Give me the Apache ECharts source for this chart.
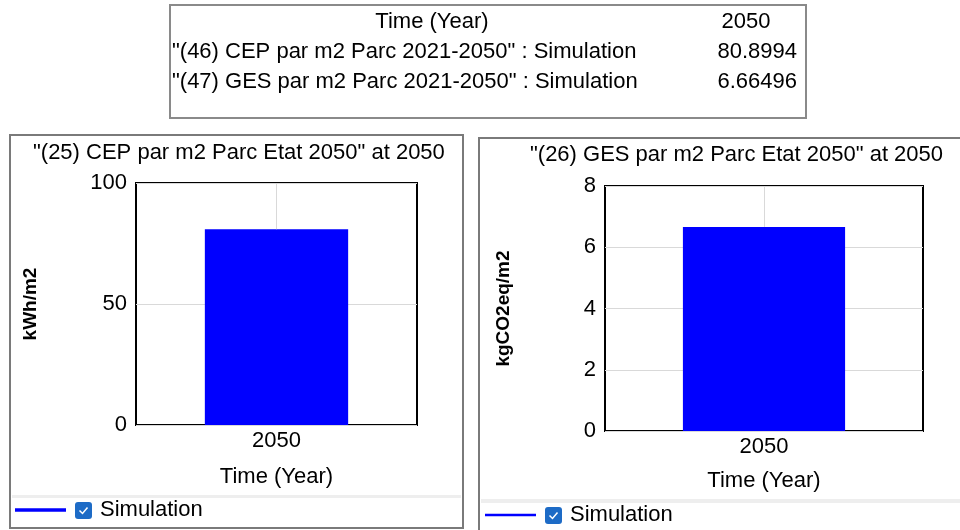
<!DOCTYPE html>
<html>
<head>
<meta charset="utf-8">
<script src="https://cdn.jsdelivr.net/npm/echarts@6/dist/echarts.min.js"></script>
<style>html,body{margin:0;padding:0;background:#fff}#c{width:960px;height:530px}</style>
</head>
<body>
<div id="c"></div>
<script>
// ---- data ----
const categories = ['2050'];
const cepValues = [80.8994];
const gesValues = [6.66496];
const cepTicks = [0, 50, 100];
const gesTicks = [0, 2, 4, 6, 8];
const tableHeader = ['Time (Year)', '2050'];
const tableRows = ['"(46) CEP par m2 Parc 2021-2050" : Simulation', '"(47) GES par m2 Parc 2021-2050" : Simulation'];
const tableValues = ['80.8994', '6.66496'];
const chartTitles = ['"(25) CEP par m2 Parc Etat 2050" at 2050', '"(26) GES par m2 Parc Etat 2050" at 2050'];
const yNames = ['kWh/m2', 'kgCO2eq/m2'];
const xName = 'Time (Year)';
const seriesName = 'Simulation';

const FONT = '"Liberation Sans", Arial, sans-serif';
const FS = 22;
const BLUE = '#0000ff';
const GRIDC = '#d9d9d9';

const chart = echarts.init(document.getElementById('c'));

function yAxis(idx, ticks, gap) {
  return {
    type: 'value', gridIndex: idx,
    min: ticks[0], max: ticks[ticks.length - 1], interval: ticks[1] - ticks[0],
    name: yNames[idx], nameLocation: 'middle', nameGap: gap, nameRotate: 90,
    nameTextStyle: { color: '#000', fontSize: 19, fontWeight: 'bold', fontFamily: FONT },
    axisLine: { show: false }, axisTick: { show: false },
    axisLabel: { color: '#000', fontSize: FS, fontFamily: FONT, margin: 9 },
    splitLine: { show: true, lineStyle: { color: GRIDC, width: 1 } }
  };
}
function xAxis(idx, gap) {
  return {
    type: 'category', gridIndex: idx, data: categories,
    name: xName, nameLocation: 'middle', nameGap: gap,
    nameTextStyle: { color: '#000', fontSize: FS, fontFamily: FONT },
    axisLine: { show: false }, axisTick: { show: false },
    axisLabel: { color: '#000', fontSize: FS, fontFamily: FONT, margin: 5 },
    splitLine: { show: false }
  };
}
function barSeries(idx, vals, yMax) {
  return {
    type: 'bar', name: seriesName, xAxisIndex: idx, yAxisIndex: idx,
    data: vals, barWidth: '51%', z: 2,
    itemStyle: { color: BLUE },
    markLine: {
      silent: true, symbol: ['none', 'none'], label: { show: false },
      lineStyle: { color: GRIDC, width: 1, type: 'solid' },
      data: [[{ coord: [categories[0], vals[0]] }, { coord: [categories[0], yMax] }]]
    }
  };
}

function legendGroup(x, y, lw) {
  return [
    { type: 'line', shape: { x1: x, y1: y, x2: x + 51, y2: y }, style: { stroke: BLUE, lineWidth: lw } },
    { type: 'rect', shape: { x: x + 60, y: y - 8, width: 17, height: 17, r: 3 }, style: { fill: '#1d6bc6' } },
    { type: 'polyline', shape: { points: [[x + 64.5, y + 0.5], [x + 67.5, y + 3.5], [x + 72.5, y - 2.5]] }, style: { stroke: '#fff', lineWidth: 1.5, fill: null } },
    { type: 'text', x: x + 85, y: y, style: { text: seriesName, fill: '#000', font: FS + 'px ' + FONT, textVerticalAlign: 'middle' } }
  ];
}

function tText(txt, x, y, align) {
  return { type: 'text', x: x, y: y, style: { text: txt, fill: '#000', font: FS + 'px ' + FONT, textAlign: align, textVerticalAlign: 'middle' } };
}

const graphics = [
  // table box
  { type: 'rect', shape: { x: 170, y: 5, width: 636, height: 113 }, style: { fill: '#fff', stroke: '#8a8a8a', lineWidth: 2 }, z: -1 },
  tText(tableHeader[0], 432, 22, 'center'),
  tText(tableHeader[1], 746, 22, 'center'),
  tText(tableRows[0], 172, 52, 'left'),
  tText(tableRows[1], 172, 82, 'left'),
  tText(tableValues[0], 797, 52, 'right'),
  tText(tableValues[1], 797, 82, 'right'),
  // panels
  { type: 'rect', shape: { x: 10, y: 135, width: 453, height: 393 }, style: { fill: 'none', stroke: '#7a7a7a', lineWidth: 2 } },
  { type: 'rect', shape: { x: 479, y: 138, width: 500, height: 420 }, style: { fill: 'none', stroke: '#7a7a7a', lineWidth: 2 } },
  // legend separators
  { type: 'rect', shape: { x: 12, y: 495, width: 449, height: 3 }, style: { fill: '#eeeeee' } },
  { type: 'rect', shape: { x: 481, y: 499, width: 479, height: 4 }, style: { fill: '#eeeeee' } }
].concat(legendGroup(15, 510, 3.5), legendGroup(485, 515, 2.5));

chart.setOption({
  animation: false,
  title: [
    { text: chartTitles[0], left: 33, top: 142, textStyle: { color: '#000', fontSize: FS, fontWeight: 'normal', fontFamily: FONT }, padding: 0 },
    { text: chartTitles[1], left: 530, top: 144, textStyle: { color: '#000', fontSize: FS, fontWeight: 'normal', fontFamily: FONT }, padding: 0 }
  ],
  grid: [
    { left: 136, top: 183, right: 543, bottom: 105, show: true, borderColor: '#000', borderWidth: 2, backgroundColor: 'transparent' },
    { left: 605, top: 186, right: 37, bottom: 99, show: true, borderColor: '#000', borderWidth: 2, backgroundColor: 'transparent' }
  ],
  xAxis: [xAxis(0, 41), xAxis(1, 39)],
  yAxis: [yAxis(0, cepTicks, 96), yAxis(1, gesTicks, 92)],
  series: [barSeries(0, cepValues, cepTicks[cepTicks.length - 1]), barSeries(1, gesValues, gesTicks[gesTicks.length - 1])],
  graphic: graphics
});
</script>
</body>
</html>
